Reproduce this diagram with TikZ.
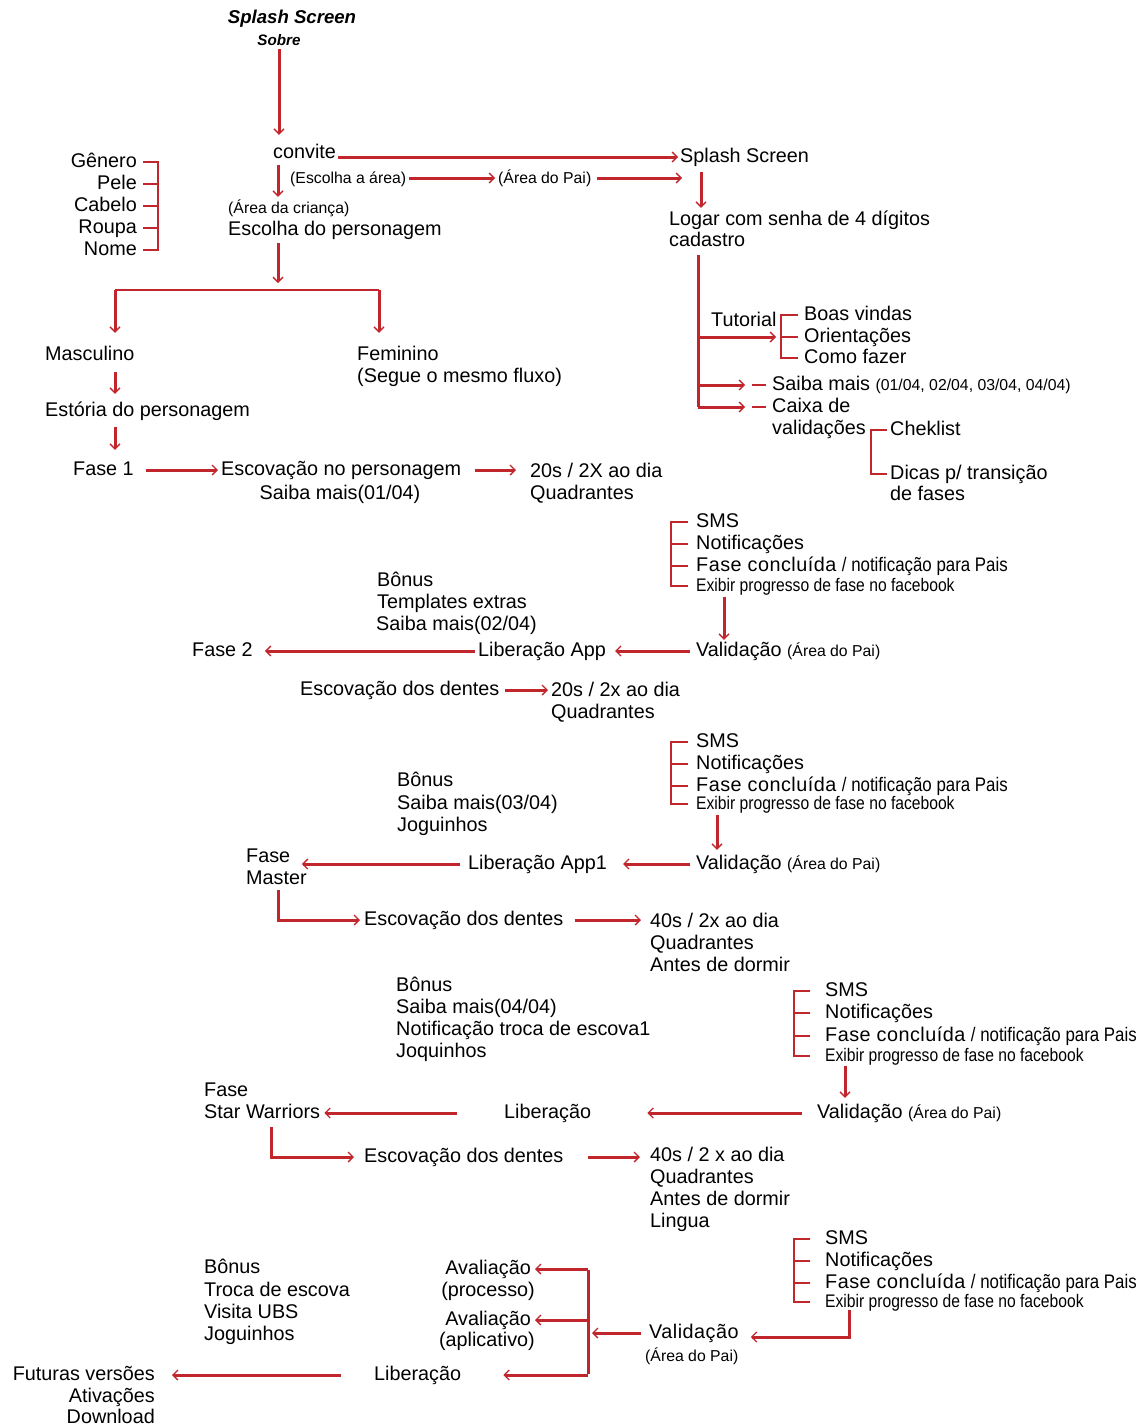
\documentclass[tikz,border=0pt]{standalone}
\usepackage{fontspec}
\setmainfont{Liberation Sans}
\newfontfamily\narrowsf[FakeStretch=0.86]{Liberation Sans}
\usetikzlibrary{arrows.meta}
\definecolor{flowred}{RGB}{192,38,44}
\newcommand{\smtxt}{\fontsize{15.8}{19}\selectfont}
\newcommand{\midtxt}{\narrowsf\fontsize{19.6}{22}\selectfont}
\newcommand{\exibtxt}{\narrowsf\fontsize{18.2}{20}\selectfont}
\newcommand{\widetxt}{\addfontfeature{LetterSpace=2.5}}

\begin{document}
\begin{tikzpicture}[x=1pt, y=-1pt, font=\fontsize{19.8}{22}\selectfont,
    txt/.style = {anchor=west, inner sep=0pt, text height=14pt, text depth=4pt},
    rtxt/.style = {txt, anchor=east},
    ctxt/.style = {txt, anchor=center},
    sm/.style = {font=\smtxt},
    exib/.style = {font=\exibtxt},
    flow/.style = {draw=flowred, line width=3pt, -{Straight Barb[length=5pt, width=10pt, line width=1.3pt]}},
    brk/.style = {draw=flowred, line width=2.5pt}]
\useasboundingbox (0,0) rectangle (1144,1427);
\node[ctxt, font=\bfseries\itshape\fontsize{18.6}{22}\selectfont] (splash) at (292,18) {Splash Screen};
\node[ctxt, font=\bfseries\itshape\fontsize{15.2}{18}\selectfont] (sobre) at (279,40) {Sobre};
\node[txt] (convite) at (273,153) {convite};
\node[txt, sm] (escarea) at (290,178) {(Escolha a área)};
\node[txt, sm] (areapai) at (498,178) {(Área do Pai)};
\node[txt, sm] (areacri) at (228,208) {(Área da criança)};
\node[txt] (escolha) at (228,230) {Escolha do personagem};
\node[rtxt] (genero) at (137,162) {Gênero};
\node[rtxt] (pele) at (137,184) {Pele};
\node[rtxt] (cabelo) at (137,206) {Cabelo};
\node[rtxt] (roupa) at (137,228) {Roupa};
\node[rtxt] (nome) at (137,250) {Nome};
\coordinate (splitl) at (115,290);
\coordinate (splitr) at (379,290);
\node[txt] (masc) at (45,355) {Masculino};
\node[txt] (fem) at (357,355) {Feminino};
\node[txt] (fem2) at (357,377) {(Segue o mesmo fluxo)};
\node[txt] (estoria) at (45,411) {Estória do personagem};
\node[txt] (fase1) at (73,470) {Fase 1};
\node[txt] (esc1) at (221,470) {Escovação no personagem};
\node[ctxt] (saiba1) at (340,494) {Saiba mais(01/04)};
\node[txt] (q1a) at (530,472) {20s / 2X ao dia};
\node[txt] (q1b) at (530,494) {Quadrantes};
\node[txt] (spl2) at (680,157) {Splash Screen};
\node[txt] (logar) at (669,220) {Logar com senha de 4 dígitos};
\node[txt] (cadastro) at (669,241) {cadastro};
\coordinate (spine) at ([xshift=29pt, yshift=-5pt]cadastro.south west);
\node[txt] (tutorial) at (711,321) {Tutorial};
\node[txt] (boas) at (804,315) {Boas vindas};
\node[txt] (orient) at (804,337) {Orientações};
\node[txt] (como) at (804,358) {Como fazer};
\node[txt] (saibam) at (772,385) {Saiba mais {\smtxt(01/04, 02/04, 03/04, 04/04)}};
\node[txt] (caixa) at (772,407) {Caixa de};
\node[txt] (valid) at (772,429) {validações};
\node[txt] (chek) at (890,430) {Cheklist};
\node[txt] (dicas) at (890,474) {Dicas p/ transição};
\node[txt] (defases) at (890,495) {de fases};
\node[txt] (smsa1) at (696,522) {SMS};
\node[txt] (smsb1) at (696,544) {Notificações};
\node[txt] (smsc1) at (696,566) {{\widetxt Fase concluída} {\midtxt / notificação para Pais}};
\node[txt, exib] (smsd1) at (696,586) {Exibir progresso de fase no facebook};
\node[txt] (bon1a) at (377,581) {Bônus};
\node[txt] (bon1b) at (377,603) {Templates extras};
\node[txt] (bon1c) at (376,625) {Saiba mais(02/04)};
\node[txt] (val1) at (696,651) {Validação {\smtxt(Área do Pai)}};
\node[txt] (lib1) at (478,651) {Liberação App};
\node[txt] (fase2) at (192,651) {Fase 2};
\node[txt] (esc2) at (300,690) {Escovação dos dentes};
\node[txt] (q2a) at (551,691) {20s / 2x ao dia};
\node[txt] (q2b) at (551,713) {Quadrantes};
\node[txt] (smsa2) at (696,742) {SMS};
\node[txt] (smsb2) at (696,764) {Notificações};
\node[txt] (smsc2) at (696,786) {{\widetxt Fase concluída} {\midtxt / notificação para Pais}};
\node[txt, exib] (smsd2) at (696,804) {Exibir progresso de fase no facebook};
\node[txt] (bon2a) at (397,781) {Bônus};
\node[txt] (bon2b) at (397,804) {Saiba mais(03/04)};
\node[txt] (bon2c) at (397,826) {Joguinhos};
\node[txt] (val2) at (696,864) {Validação {\smtxt(Área do Pai)}};
\node[txt] (lib2) at (468,864) {Liberação App1};
\node[txt] (fasem1) at (246,857) {Fase};
\node[txt] (fasem2) at (246,879) {Master};
\node[txt] (esc3) at (364,920) {Escovação dos dentes};
\node[txt] (q3a) at (650,922) {40s / 2x ao dia};
\node[txt] (q3b) at (650,944) {Quadrantes};
\node[txt] (q3c) at (650,966) {Antes de dormir};
\node[txt] (bon3a) at (396,986) {Bônus};
\node[txt] (bon3b) at (396,1008) {Saiba mais(04/04)};
\node[txt] (bon3c) at (396,1030) {Notificação troca de escova1};
\node[txt] (bon3d) at (396,1052) {Joquinhos};
\node[txt] (smsa3) at (825,991) {SMS};
\node[txt] (smsb3) at (825,1013) {Notificações};
\node[txt] (smsc3) at (825,1036) {{\widetxt Fase concluída} {\midtxt / notificação para Pais}};
\node[txt, exib] (smsd3) at (825,1056) {Exibir progresso de fase no facebook};
\node[txt] (val3) at (817,1113) {Validação {\smtxt(Área do Pai)}};
\node[txt] (lib3) at (504,1113) {Liberação};
\node[txt] (fases1) at (204,1091) {Fase};
\node[txt] (fases2) at (204,1113) {Star Warriors};
\node[txt] (esc4) at (364,1157) {Escovação dos dentes};
\node[txt] (q4a) at (650,1156) {40s / 2 x ao dia};
\node[txt] (q4b) at (650,1178) {Quadrantes};
\node[txt] (q4c) at (650,1200) {Antes de dormir};
\node[txt] (q4d) at (650,1222) {Lingua};
\node[txt] (smsa4) at (825,1239) {SMS};
\node[txt] (smsb4) at (825,1261) {Notificações};
\node[txt] (smsc4) at (825,1283) {{\widetxt Fase concluída} {\midtxt / notificação para Pais}};
\node[txt, exib] (smsd4) at (825,1302) {Exibir progresso de fase no facebook};
\node[txt] (val4) at (649,1333) {{\widetxt Validação}};
\node[txt, sm] (val4b) at (645,1356) {(Área do Pai)};
\node[txt] (bon4a) at (204,1268) {Bônus};
\node[txt] (bon4b) at (204,1291) {Troca de escova};
\node[txt] (bon4c) at (204,1313) {Visita UBS};
\node[txt] (bon4d) at (204,1335) {Joguinhos};
\node[rtxt] (aval1) at (531,1269) {Avaliação};
\node[rtxt] (proc) at (535,1291) {(processo)};
\node[rtxt] (aval2) at (531,1320) {Avaliação};
\node[rtxt] (aplic) at (535,1341) {(aplicativo)};
\node[txt] (lib4) at (374,1375) {Liberação};
\node[rtxt] (fut) at (155,1375) {Futuras versões};
\node[rtxt] (ativ) at (155,1397) {Ativações};
\node[rtxt] (down) at (155,1418) {Download};
\coordinate (forkt) at (588,1270);
\coordinate (forkb) at (588,1374);
\draw[flow, shorten >=9pt] (sobre.south) -- (sobre.south |- convite.north);
\draw[flow, shorten <=3pt, shorten >=2pt] ([xshift=5pt]convite.south west) -- ([xshift=5pt]convite.south west |- areacri.north);
\draw[flow, shorten <=2pt, shorten >=2pt] (convite.east |- spl2.west) -- (spl2.west);
\draw[flow, shorten <=3pt, shorten >=3pt] (escarea.east) -- (areapai.west);
\draw[flow, shorten <=6pt, shorten >=-2pt] (areapai.east) -- (areapai.east -| spl2.west);
\draw[flow, shorten <=4pt, shorten >=7pt] ([xshift=50pt]escolha.south west) -- ([xshift=50pt]escolha.south west |- splitl);
\draw[brk] (splitl) -- (splitr);
\draw[flow, shorten >=13pt] (splitl) -- (splitl |- masc.north);
\draw[flow, shorten >=13pt] (splitr) -- (splitr |- fem.north);
\draw[flow, shorten <=8pt, shorten >=8pt] ([xshift=70pt]masc.south west) -- ([xshift=70pt]masc.south west |- estoria.north);
\draw[flow, shorten <=7pt, shorten >=11pt] ([xshift=70pt]estoria.south west) -- ([xshift=70pt]estoria.south west |- fase1.north);
\draw[flow, shorten <=12pt, shorten >=3pt] (fase1.east) -- (esc1.west);
\draw[flow, shorten <=14pt, shorten >=14pt] (esc1.east) -- (esc1.east -| q1a.west);
\draw[brk] ([xshift=6pt]genero.east) -| ([xshift=21pt]nome.east) -- ([xshift=6pt]nome.east);
\draw[brk] ([xshift=6pt]pele.east) -- ([xshift=21pt]pele.east);
\draw[brk] ([xshift=6pt]cabelo.east) -- ([xshift=21pt]cabelo.east);
\draw[brk] ([xshift=6pt]roupa.east) -- ([xshift=21pt]roupa.east);
\draw[flow, shorten <=6pt, shorten >=3pt] ([xshift=21pt]spl2.south west) -- ([xshift=21pt]spl2.south west |- logar.north);
\draw[brk, line width=3pt] (spine) -- (spine |- caixa.west);
\draw[flow, shorten >=28pt] (spine |- orient.west) -- (orient.west);
\draw[brk] ([xshift=-6pt]boas.west) -| ([xshift=-23pt]como.west) -- ([xshift=-6pt]como.west);
\draw[brk] ([xshift=-6pt]orient.west) -- ([xshift=-23pt]orient.west);
\draw[flow, shorten >=27pt] (spine |- saibam.west) -- (saibam.west);
\draw[brk] ([xshift=-20pt]saibam.west) -- ([xshift=-6pt]saibam.west);
\draw[flow, shorten >=27pt] (spine |- caixa.west) -- (caixa.west);
\draw[brk] ([xshift=-20pt]caixa.west) -- ([xshift=-6pt]caixa.west);
\draw[brk] ([xshift=-3pt]chek.west) -| ([xshift=-19pt]dicas.west) -- ([xshift=-3pt]dicas.west);
\draw[brk] ([xshift=-8pt]smsa1.west) -| ([xshift=-25pt]smsd1.west) -- ([xshift=-8pt]smsd1.west);
\draw[brk] ([xshift=-8pt]smsb1.west) -- ([xshift=-25pt]smsb1.west);
\draw[brk] ([xshift=-8pt]smsc1.west) -- ([xshift=-25pt]smsc1.west);
\draw[flow, shorten <=2pt, shorten >=2pt] ([xshift=28pt]smsd1.south west) -- ([xshift=28pt]smsd1.south west |- val1.north);
\draw[flow, shorten <=6pt, shorten >=9pt] (val1.west) -- (lib1.east);
\draw[flow, shorten <=3pt, shorten >=12pt] (lib1.west) -- (fase2.east);
\draw[flow, shorten <=5pt, shorten >=3pt] (esc2.east) -- (esc2.east -| q2a.west);
\draw[brk] ([xshift=-8pt]smsa2.west) -| ([xshift=-25pt]smsd2.west) -- ([xshift=-8pt]smsd2.west);
\draw[brk] ([xshift=-8pt]smsb2.west) -- ([xshift=-25pt]smsb2.west);
\draw[brk] ([xshift=-8pt]smsc2.west) -- ([xshift=-25pt]smsc2.west);
\draw[flow, shorten <=2pt, shorten >=5pt] ([xshift=21pt]smsd2.south west) -- ([xshift=21pt]smsd2.south west |- val2.north);
\draw[flow, shorten <=6pt, shorten >=16pt] (val2.west) -- (lib2.east);
\draw[flow, shorten <=8pt, shorten >=-5pt] (lib2.west) -- (lib2.west -| fasem2.east);
\draw[flow, shorten >=4pt] ([xshift=32pt, yshift=-2pt]fasem2.south west) |- (esc3.west);
\draw[flow, shorten <=11pt, shorten >=9pt] (esc3.east) -- (esc3.east -| q3a.west);
\draw[brk] ([xshift=-15pt]smsa3.west) -| ([xshift=-31pt]smsd3.west) -- ([xshift=-15pt]smsd3.west);
\draw[brk] ([xshift=-15pt]smsb3.west) -- ([xshift=-31pt]smsb3.west);
\draw[brk] ([xshift=-15pt]smsc3.west) -- ([xshift=-31pt]smsc3.west);
\draw[flow, shorten <=1pt, shorten >=6pt] ([xshift=20pt]smsd3.south west) -- ([xshift=20pt]smsd3.south west |- val3.north);
\draw[flow, shorten <=15pt, shorten >=56pt] (val3.west) -- (lib3.east);
\draw[flow, shorten <=47pt, shorten >=4pt] (lib3.west) -- (fases2.east);
\draw[flow, shorten >=10pt] ([xshift=67pt, yshift=-5pt]fases2.south west) |- (esc4.west);
\draw[flow, shorten <=24pt, shorten >=10pt] (esc4.east) -- (esc4.east -| q4a.west);
\draw[brk] ([xshift=-15pt]smsa4.west) -| ([xshift=-31pt]smsd4.west) -- ([xshift=-15pt]smsd4.west);
\draw[brk] ([xshift=-15pt]smsb4.west) -- ([xshift=-31pt]smsb4.west);
\draw[brk] ([xshift=-15pt]smsc4.west) -- ([xshift=-31pt]smsc4.west);
\draw[flow, shorten >=12pt] ([xshift=24pt, yshift=1pt]smsd4.south west) |- ([yshift=-4pt]val4.east);
\draw[flow, shorten <=8pt, shorten >=4pt] (val4.west) -- (val4.west -| forkt);
\draw[brk, line width=3pt] (forkt) -- (forkb);
\draw[flow, shorten >=4pt] (aval1.east -| forkt) -- (aval1.east);
\draw[flow, shorten >=4pt] (aval2.east -| forkt) -- (aval2.east);
\draw[flow, shorten >=42pt] (lib4.east -| forkt) -- (lib4.east);
\draw[flow, shorten <=33pt, shorten >=17pt] (lib4.west) -- (fut.east);
\end{tikzpicture}
\end{document}
